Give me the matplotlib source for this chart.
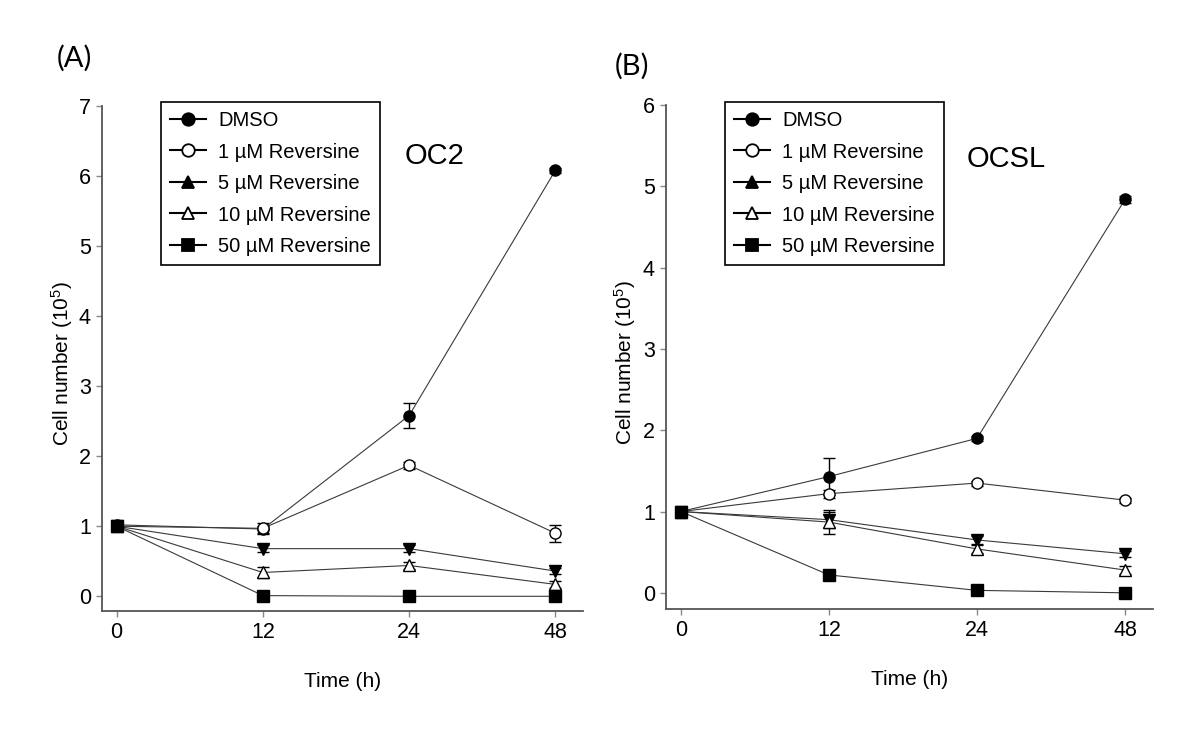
import numpy as np
import matplotlib
matplotlib.use("Agg")
import matplotlib.pyplot as plt
from matplotlib.lines import Line2D

plt.rcParams['font.family'] = ['Liberation Sans', 'DejaVu Sans']
plt.rcParams['mathtext.fontset'] = 'custom'
plt.rcParams['mathtext.rm'] = 'Liberation Sans'
plt.rcParams['mathtext.it'] = 'Liberation Sans'

# time points (h), drawn evenly spaced
time_labels = ['0', '12', '24', '48']
groups = ['DMSO', '1 µM Reversine', '5 µM Reversine', '10 µM Reversine', '50 µM Reversine']

# panel A : OC2  (cell number, 10^5)
oc2_dmso = [1.02, 0.96, 2.58, 6.08]
oc2_r1 = [1.00, 0.97, 1.87, 0.90]
oc2_r5 = [1.00, 0.68, 0.68, 0.36]
oc2_r10 = [1.00, 0.34, 0.44, 0.17]
oc2_r50 = [1.00, 0.01, 0.00, 0.00]
oc2_err = [[0.03, 0.05, 0.18, 0.04],
           [0.03, 0.08, 0.05, 0.12],
           [0.02, 0.05, 0.05, 0.04],
           [0.02, 0.08, 0.05, 0.05],
           [0.02, 0.02, 0.02, 0.02]]

# panel B : OCSL
ocsl_dmso = [1.00, 1.43, 1.90, 4.84]
ocsl_r1 = [1.00, 1.22, 1.35, 1.14]
ocsl_r5 = [1.00, 0.90, 0.65, 0.48]
ocsl_r10 = [1.00, 0.87, 0.54, 0.28]
ocsl_r50 = [1.00, 0.22, 0.03, 0.00]
ocsl_err = [[0.03, 0.23, 0.03, 0.04],
            [0.02, 0.05, 0.03, 0.03],
            [0.02, 0.10, 0.05, 0.04],
            [0.02, 0.15, 0.05, 0.05],
            [0.02, 0.03, 0.02, 0.02]]

# marker style per group: (marker in plot, marker in legend, face colour)
styles = [('o', 'o', 'black'),
          ('o', 'o', 'white'),
          ('v', '^', 'black'),
          ('^', '^', 'white'),
          ('s', 's', 'black')]
line_col = '#3a3a3a'
spine_col = '#555555'


def DrawPanel(ax, series, errs, ymax, name, name_xy, ylo):
    x = np.arange(len(time_labels))
    for vals, err, (mk, _, fc) in zip(series, errs, styles):
        ax.errorbar(x, vals, yerr=err, color=line_col, lw=0.8,
                    marker=mk, markersize=8, markerfacecolor=fc,
                    markeredgecolor='black', markeredgewidth=1,
                    ecolor='black', elinewidth=1, capsize=4, capthick=1)
    ax.set_xticks(x)
    ax.set_xticklabels(time_labels)
    ax.set_yticks(range(0, ymax + 1))
    ax.set_ylim(ylo, ymax)
    ax.set_xlim(-0.1, 3.19)
    for s in ['top', 'right']:
        ax.spines[s].set_visible(False)
    for s in ['left', 'bottom']:
        ax.spines[s].set_color(spine_col)
        ax.spines[s].set_linewidth(1.3)
    ax.tick_params(direction='out', length=4, width=1, color='#888888',
                   labelsize=15.5, pad=4)
    ax.set_xlabel('Time (h)', fontsize=15, labelpad=21)
    ax.set_ylabel('Cell number (10$^5$)', fontsize=15)
    ax.yaxis.set_label_coords(-0.057, 0.49)
    ax.text(name_xy[0], name_xy[1], name, fontsize=21, va='center',
            ha='left', transform=ax.figure.transFigure)


fig = plt.figure(figsize=(12, 7.3), dpi=100)

axA = fig.add_axes([0.085, 0.163, 0.401, 0.692])
DrawPanel(axA, [oc2_dmso, oc2_r1, oc2_r5, oc2_r10, oc2_r50], oc2_err,
          7, 'OC2', (405 / 1200, 1 - 156 / 730), -0.21)

axB = fig.add_axes([0.555, 0.166, 0.406, 0.690])
DrawPanel(axB, [ocsl_dmso, ocsl_r1, ocsl_r5, ocsl_r10, ocsl_r50], ocsl_err,
          6, 'OCSL', (967 / 1200, 1 - 159 / 730), -0.197)

fig.text(57 / 1200, 1 - 58 / 730, '(A)', fontsize=21, family=['Lato', 'DejaVu Sans'],
         va='center', ha='left')
fig.text(615 / 1200, 1 - 66 / 730, '(B)', fontsize=21, family=['Lato', 'DejaVu Sans'],
         va='center', ha='left')

# legends (legend shows upright triangle for 5 uM)
handles = [Line2D([], [], color='black', lw=1.5, marker=lm, markersize=9,
                  markerfacecolor=fc, markeredgecolor='black', markeredgewidth=1.3)
           for (_, lm, fc) in styles]
for ax, xpos in [(axA, 161 / 1200), (axB, 725 / 1200)]:
    leg = ax.legend(handles, groups, loc='upper left',
                    bbox_to_anchor=(xpos, 1 - 102 / 730),
                    bbox_transform=fig.transFigure, fontsize=14.5,
                    frameon=True, fancybox=False, framealpha=1,
                    edgecolor='black', handlelength=1.8, handletextpad=0.6,
                    labelspacing=0.62, borderpad=0.45, borderaxespad=0)
    leg.get_frame().set_linewidth(1.2)

fig.savefig('out.png', dpi=100)
